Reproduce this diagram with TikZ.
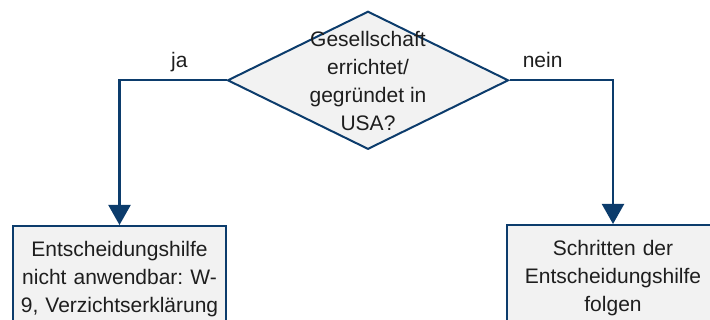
\documentclass[tikz,border=0pt]{standalone}
\usepackage{fontspec}
\setmainfont{Liberation Sans}
\usetikzlibrary{arrows.meta,positioning,shapes.geometric}
\definecolor{linie}{RGB}{12,60,108}
\definecolor{feld}{RGB}{242,242,242}
\definecolor{schrift}{RGB}{30,30,30}

\begin{document}
\begin{tikzpicture}[x=0.75pt,y=-0.75pt,
	schrift/.style={text=schrift, font=\fontsize{15.75pt}{21pt}\selectfont\frenchspacing},
	raute/.style={diamond, draw=linie, fill=feld, line width=1.5pt, minimum width=210.75pt, minimum height=103.5pt, inner sep=0pt},
	kasten/.style={rectangle, draw=linie, fill=feld, line width=1.5pt, minimum width=159.75pt, minimum height=79.5pt, text width=154pt, inner xsep=2pt, align=center, anchor=north, schrift},
	antwort/.style={schrift, text depth=0.25em, above=3pt},
	pfeil/.style={draw=linie, line width=1.6pt, -{Triangle[width=16.5pt,length=15pt]}}]
		\useasboundingbox (0,0) rectangle (710,320);
		\clip (0,0) rectangle (710,320);

		\node[raute] (frage) at (368,80.3) {};
		\node[schrift, align=center, inner sep=0pt] (fragetext) at (368,81) {Gesellschaft\\errichtet/\\gegründet in\\USA?};

		\node[kasten] (links) at (119.5,225) {Entscheidungshilfe\\nicht anwendbar: W-\\9, Verzichtserklärung};
		\node[kasten] (rechts) at (613,224) {Schritten der\\Entscheidungshilfe\\folgen};

		\draw[pfeil] (frage.west) -| node[pos=0.22, antwort] (ja) {ja} (links.north);
		\draw[pfeil] (frage.east) -| node[pos=0.16, antwort] (nein) {nein} (rechts.north);
	\end{tikzpicture}
\end{document}
